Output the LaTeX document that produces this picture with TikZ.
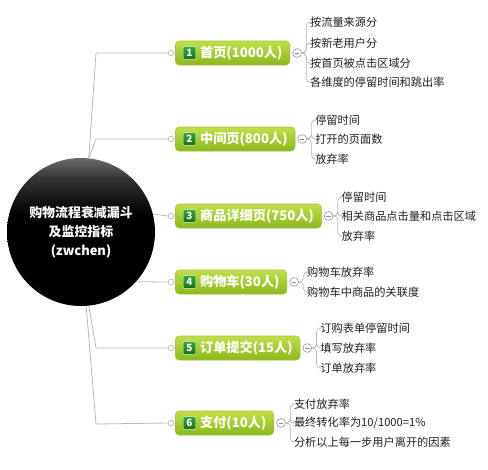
\documentclass[tikz,border=0pt]{standalone}
\usepackage{fontspec}
\setmainfont{Noto Sans CJK SC}
\usetikzlibrary{calc}
\definecolor{lgreen}{HTML}{C0DF4A}
\definecolor{dgreen}{HTML}{8BB81C}
\definecolor{edgegreen}{HTML}{9CC23A}
\definecolor{btop}{HTML}{3AA83A}
\definecolor{bbot}{HTML}{156E17}
\definecolor{connc}{HTML}{B8B8B8}
\pgfdeclareverticalshading{hubshade}{100bp}{color(0bp)=(black); color(25bp)=(black); color(56bp)=(black); color(68bp)=(black!80); color(75bp)=(black!58); color(100bp)=(black!58)}
\tikzset{
 conn/.style={draw=connc, line width=0.6pt},
 dot/.style={circle, draw=connc, fill=white, inner sep=0pt, minimum size=4.2pt, line width=0.5pt},
 topic/.style={rounded corners=3pt, top color=lgreen, bottom color=dgreen, draw=edgegreen, line width=0.4pt,
   text=white, font=\bfseries\fontsize{9.9}{12}\selectfont, minimum height=18pt, inner xsep=5.6pt, inner ysep=0pt, anchor=west},
 badge/.style={rounded corners=1pt, top color=btop, bottom color=bbot, draw=white!85!green, line width=0.3pt,
   text=white, font=\bfseries\fontsize{7.5}{8}\selectfont, minimum width=9.5pt, minimum height=10pt, inner sep=0pt},
 fold/.style={circle, draw=black!45, fill=white, minimum size=6.6pt, inner sep=0pt, line width=0.4pt,
   path picture={\draw[line width=0.6pt] ([xshift=-1.7pt]path picture bounding box.center) -- ([xshift=1.7pt]path picture bounding box.center);}},
 leaf/.style={anchor=west, inner xsep=1pt, inner ysep=0pt, font=\fontsize{8.4}{10}\selectfont, text=black!88},
 br/.style={draw=connc, rounded corners=3pt, line width=0.5pt},
 hub/.style={circle, minimum size=111pt, inner sep=0pt, shading=hubshade,
   text=white, font=\bfseries\fontsize{9.7}{14.2}\selectfont, align=center}
}
\begin{document}
\begin{tikzpicture}[x=0.75pt,y=-0.75pt]
\useasboundingbox (0,0) rectangle (488,469);
% hub
\node[hub] (c) at (81,232) {购物流程衰减漏斗\\及监控指标\\(zwchen)};
% topic nodes
\node[topic] (t1) at (175,53) {\hspace{13pt}首页(1000人)};
\node[topic] (t2) at (175,139) {\hspace{13pt}中间页(800人)};
\node[topic] (t3) at (175,216) {\hspace{13pt}商品详细页(750人)};
\node[topic] (t4) at (175,282) {\hspace{13pt}购物车(30人)};
\node[topic] (t5) at (175,348) {\hspace{13pt}订单提交(15人)};
\node[topic] (t6) at (175,423) {\hspace{13pt}支付(10人)};
\foreach \i in {1,...,6}{
  \node[badge] (b\i) at ([xshift=10.9pt]t\i.west) {\i};
  \node[dot] (d\i) at ([xshift=-3pt]t\i.west) {};
  \node[fold] (f\i) at ([xshift=5.2pt]t\i.east) {};
  \coordinate (x\i) at ([xshift=8.6pt]f\i.center);
}
% hub connectors
\coordinate (k1) at (96,53);
\coordinate (k2) at (96,139);
\coordinate (k5) at (96,348);
\coordinate (k6) at (96,424);
\draw[conn] (c.84) -- (k1) -- (d1.west);
\draw[conn] (c.84) -- (k2) -- (d2.west);
\draw[conn] (c.14) -- (d3.west);
\draw[conn] (c.-42.5) -- (d4.west);
\draw[conn] (c.-84) -- (k5) -- (d5.west);
\draw[conn] (c.-86) -- (k6) -- (d6.west);
% leaves
\node[leaf] (l11) at (x1 |- 0,22) {按流量来源分};
\node[leaf] (l12) at (x1 |- 0,43) {按新老用户分};
\node[leaf] (l13) at (x1 |- 0,63) {按首页被点击区域分};
\node[leaf] (l14) at (x1 |- 0,82) {各维度的停留时间和跳出率};
\node[leaf] (l21) at (x2 |- 0,120) {停留时间};
\node[leaf] (l22) at (x2 |- 0,139) {打开的页面数};
\node[leaf] (l23) at (x2 |- 0,159) {放弃率};
\node[leaf] (l31) at (x3 |- 0,197) {停留时间};
\node[leaf] (l32) at (x3 |- 0,216) {相关商品点击量和点击区域};
\node[leaf] (l33) at (x3 |- 0,236) {放弃率};
\node[leaf] (l41) at (x4 |- 0,272) {购物车放弃率};
\node[leaf] (l42) at (x4 |- 0,292) {购物车中商品的关联度};
\node[leaf] (l51) at (x5 |- 0,328) {订购表单停留时间};
\node[leaf] (l52) at (x5 |- 0,348) {填写放弃率};
\node[leaf] (l53) at (x5 |- 0,368) {订单放弃率};
\node[leaf] (l61) at (x6 |- 0,404) {支付放弃率};
\node[leaf] (l62) at (x6 |- 0,423) {最终转化率为10/1000=1\%};
\node[leaf] (l63) at (x6 |- 0,442) {分析以上每一步用户离开的因素};
% braces
\foreach \f/\l in {f1/l11,f1/l12,f1/l13,f1/l14,f2/l21,f2/l22,f2/l23,f3/l31,f3/l32,f3/l33,
                   f4/l41,f4/l42,f5/l51,f5/l52,f5/l53,f6/l61,f6/l62,f6/l63}{
  \draw[br] (\f.east) -- ++(3.4pt,0) |- (\l.west);
}
\end{tikzpicture}
\end{document}
